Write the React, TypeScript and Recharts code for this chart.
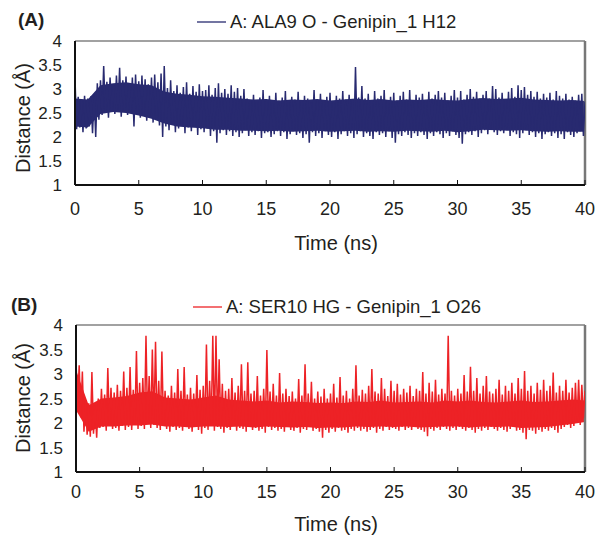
import React from 'react';
import { ComposedChart, Line, Area, XAxis, YAxis, ReferenceLine } from 'recharts';

// Time axis (ns), distance axis (Å)
const X_TICKS = [0, 5, 10, 15, 20, 25, 30, 35, 40];
const Y_TICKS = [1, 1.5, 2, 2.5, 3, 3.5, 4];
const STEP_NS = 0.25; // sampling of read-off extremes
const CORE_STEP_NS = 1; // sampling of the solid core of the trace

// Panel A: ALA9 O - Genipin_1 H12 (upper extremes every 0.25 ns, lower extremes in between)
const A_PEAKS = [
  3.22, 2.84, 2.78, 2.86, 2.80, 2.85, 2.88, 3.12, 3.18, 3.48, 3.15, 3.24,
  3.10, 3.28, 3.44, 3.18, 3.26, 3.12, 3.24, 3.30, 3.16, 3.28, 3.20, 3.10,
  3.24, 3.30, 3.14, 3.32, 3.48, 3.02, 3.18, 2.96, 3.08, 2.92, 3.04, 3.14,
  2.90, 3.06, 2.94, 3.10, 2.96, 2.98, 3.08, 2.88, 3.02, 3.12, 2.92, 3.00,
  2.90, 3.08, 2.94, 3.02, 2.86, 3.00, 2.80, 2.76, 2.88, 2.72, 2.82, 2.98,
  2.74, 2.86, 2.70, 2.92, 2.76, 2.82, 2.96, 2.72, 2.84, 2.78, 2.94, 2.74,
  2.86, 2.80, 2.72, 2.98, 2.78, 2.90, 2.74, 2.84, 2.92, 2.74, 2.86, 2.80,
  2.96, 2.78, 2.88, 2.76, 3.46, 2.82, 3.06, 2.80, 2.90, 2.74, 2.96, 2.80,
  2.86, 2.98, 2.76, 2.84, 2.92, 2.76, 2.86, 2.94, 2.78, 2.98, 2.76, 2.88,
  2.82, 2.90, 2.74, 2.94, 2.80, 2.88, 2.96, 2.82, 2.92, 2.76, 2.86, 2.98,
  2.82, 2.96, 2.78, 2.88, 3.00, 2.84, 2.94, 2.80, 2.88, 2.96, 2.80, 3.06,
  3.00, 2.82, 2.92, 2.78, 2.94, 3.02, 2.84, 3.08, 2.98, 3.04, 2.88, 2.96,
  2.84, 2.94, 2.80, 2.90, 2.82, 2.92, 2.78, 2.96, 2.86, 2.80, 2.90, 2.78,
  2.84, 2.76, 2.88, 2.90, 2.74,
];
const A_TROUGHS = [
  2.16, 2.20, 2.10, 2.18, 2.22, 2.08, 2.00, 2.36, 2.46, 2.52, 2.40, 2.56,
  2.48, 2.58, 2.42, 2.52, 2.46, 2.50, 2.22, 2.48, 2.40, 2.46, 2.34, 2.42,
  2.30, 2.38, 2.24, 2.00, 2.22, 2.14, 2.28, 2.10, 2.18, 2.24, 2.08, 2.20,
  2.12, 2.22, 2.04, 2.16, 2.10, 2.18, 2.02, 2.12, 1.88, 2.08, 2.14, 2.04,
  2.12, 2.02, 2.10, 2.00, 2.08, 2.14, 2.02, 2.10, 2.04, 2.12, 1.98, 2.08,
  2.10, 2.00, 2.06, 2.12, 2.02, 2.10, 1.96, 2.06, 2.12, 2.04, 2.08, 1.98,
  2.06, 1.88, 2.10, 2.02, 2.08, 1.98, 2.12, 2.04, 2.00, 2.10, 1.96, 2.06,
  2.12, 2.02, 2.08, 1.98, 2.06, 2.12, 2.00, 2.08, 2.02, 1.96, 2.10, 2.04,
  2.08, 2.00, 2.12, 1.98, 1.88, 2.06, 2.02, 2.10, 2.04, 1.98, 2.08, 2.02,
  2.10, 2.04, 1.96, 2.08, 2.02, 2.10, 2.06, 1.98, 2.08, 2.02, 2.12, 2.04,
  1.98, 1.86, 2.06, 2.10, 2.04, 2.12, 2.00, 2.08, 2.14, 2.06, 2.16, 2.10,
  2.04, 2.12, 2.08, 2.14, 2.02, 2.10, 2.06, 1.98, 2.08, 2.14, 2.04, 2.10,
  2.00, 2.08, 1.96, 2.06, 2.10, 2.02, 2.08, 1.98, 2.06, 1.96, 2.10, 2.04,
  2.00, 2.08, 2.12, 2.02,
];
// Solid core of trace A, every 1 ns
const A_CORE_HI = [
  2.80, 2.78, 3.08, 3.12, 3.14, 3.10, 3.08, 2.95, 2.90, 2.88,
  2.85, 2.84, 2.82, 2.80, 2.78, 2.79, 2.76, 2.78, 2.77, 2.79,
  2.76, 2.78, 2.80, 2.77, 2.79, 2.76, 2.78, 2.77, 2.79, 2.77,
  2.76, 2.79, 2.81, 2.79, 2.80, 2.82, 2.78, 2.77, 2.76, 2.77, 2.75,
];
const A_CORE_LO = [
  2.22, 2.20, 2.48, 2.52, 2.50, 2.45, 2.38, 2.28, 2.22, 2.20,
  2.18, 2.15, 2.15, 2.13, 2.13, 2.12, 2.13, 2.11, 2.12, 2.13,
  2.11, 2.12, 2.13, 2.11, 2.12, 2.11, 2.13, 2.12, 2.11, 2.13,
  2.10, 2.12, 2.15, 2.14, 2.13, 2.14, 2.12, 2.11, 2.12, 2.11, 2.11,
];

// Panel B: SER10 HG - Genipin_1 O26
const B_PEAKS = [
  3.25, 3.18, 3.05, 2.45, 2.40, 3.04, 2.35, 2.50, 2.70, 2.58, 3.12, 2.72,
  2.62, 2.78, 2.66, 3.05, 2.72, 3.14, 2.68, 3.47, 2.82, 2.92, 3.78, 2.96,
  3.50, 3.66, 2.86, 3.46, 2.66, 2.56, 2.76, 2.62, 3.10, 2.66, 3.14, 2.58,
  2.72, 2.60, 2.98, 2.68, 2.76, 3.60, 2.86, 3.78, 3.78, 3.30, 2.80, 2.66,
  2.70, 2.92, 2.62, 2.76, 3.20, 2.66, 3.24, 2.60, 2.66, 2.96, 2.56, 2.70,
  3.49, 2.64, 2.80, 2.56, 3.02, 2.60, 2.70, 2.55, 2.64, 2.50, 2.90, 2.56,
  3.20, 2.60, 2.84, 2.50, 2.64, 2.54, 2.70, 2.50, 2.60, 2.80, 2.52, 2.94,
  2.56, 2.66, 2.50, 2.70, 3.18, 2.56, 2.68, 2.60, 2.76, 3.10, 2.64, 2.60,
  2.92, 2.70, 2.55, 2.86, 2.66, 2.80, 2.58, 2.70, 2.62, 2.76, 2.55, 2.70,
  2.66, 3.04, 2.60, 2.82, 2.64, 2.88, 2.58, 2.70, 2.60, 3.78, 2.66, 2.56,
  2.70, 2.60, 2.98, 2.64, 3.15, 2.66, 2.92, 2.60, 2.76, 2.96, 2.64, 2.60,
  2.70, 2.88, 2.58, 2.76, 2.66, 2.82, 2.60, 2.92, 2.70, 3.06, 2.66, 2.76,
  2.60, 2.82, 2.68, 2.88, 2.66, 2.76, 3.03, 2.62, 2.76, 2.66, 2.88, 2.62,
  2.72, 2.82, 2.88, 2.78, 2.66,
];
const B_TROUGHS = [
  2.40, 2.12, 1.82, 1.76, 1.72, 1.78, 1.70, 1.90, 1.92, 1.84, 1.96, 1.88,
  1.90, 1.84, 1.94, 1.86, 1.92, 1.86, 1.96, 1.88, 1.94, 1.88, 1.98, 1.90,
  1.96, 1.90, 1.86, 1.94, 1.88, 1.82, 1.92, 1.86, 1.90, 1.84, 1.94, 1.88,
  1.82, 1.92, 1.86, 1.78, 1.90, 1.86, 1.94, 1.84, 1.92, 1.88, 1.80, 1.90,
  1.86, 1.94, 1.84, 1.90, 1.88, 1.82, 1.92, 1.86, 1.90, 1.84, 1.88, 1.80,
  1.92, 1.86, 1.90, 1.84, 1.88, 1.82, 1.94, 1.86, 1.84, 1.90, 1.80, 1.88,
  1.86, 1.92, 1.84, 1.88, 1.82, 1.70, 1.86, 1.80, 1.88, 1.82, 1.90, 1.84,
  1.86, 1.80, 1.88, 1.84, 1.90, 1.84, 1.88, 1.82, 1.86, 1.90, 1.80, 1.88,
  1.84, 1.92, 1.86, 1.90, 1.88, 1.84, 1.92, 1.86, 1.90, 1.86, 1.94, 1.88,
  1.86, 1.82, 1.73, 1.88, 1.84, 1.90, 1.86, 1.92, 1.88, 1.84, 1.90, 1.86,
  1.92, 1.88, 1.84, 1.90, 1.86, 1.80, 1.88, 1.84, 1.90, 1.86, 1.92, 1.88,
  1.84, 1.90, 1.86, 1.82, 1.88, 1.92, 1.84, 1.86, 1.80, 1.67, 1.86, 1.84,
  1.78, 1.86, 1.82, 1.88, 1.84, 1.90, 1.86, 1.80, 1.88, 1.92, 1.96, 1.90,
  1.94, 2.00, 1.96, 2.10,
];
// Solid core of trace B, every 1 ns
const B_CORE_HI = [
  3.08, 2.36, 2.50, 2.52, 2.55, 2.62, 2.65, 2.52, 2.50, 2.48,
  2.52, 2.56, 2.48, 2.46, 2.44, 2.46, 2.42, 2.44, 2.43, 2.41,
  2.42, 2.41, 2.44, 2.43, 2.46, 2.42, 2.43, 2.44, 2.42, 2.46,
  2.44, 2.46, 2.43, 2.42, 2.44, 2.46, 2.43, 2.44, 2.46, 2.48, 2.46,
];
const B_CORE_LO = [
  2.26, 1.82, 1.93, 1.93, 1.95, 1.95, 1.97, 1.93, 1.93, 1.91,
  1.93, 1.93, 1.92, 1.93, 1.91, 1.93, 1.92, 1.91, 1.92, 1.90,
  1.91, 1.91, 1.93, 1.92, 1.93, 1.92, 1.93, 1.91, 1.92, 1.93,
  1.93, 1.91, 1.93, 1.92, 1.93, 1.90, 1.91, 1.92, 1.95, 1.98, 2.02,
];

const TEXT = '#231f20';
const FONT = '"Liberation Sans", Arial, Helvetica, sans-serif';
const NAVY = '#282a70';
const RED = '#ed2226';

type Row = { t: number; d?: number; core?: [number, number] };

function buildSeries(peaks: number[], troughs: number[], coreHi: number[], coreLo: number[]) {
  const out: Row[] = [];
  const perCore = Math.round(CORE_STEP_NS / STEP_NS);
  peaks.forEach((p, i) => {
    const row: Row = { t: i * STEP_NS, d: p };
    if (i % perCore === 0) {
      const k = i / perCore;
      if (k < coreHi.length) row.core = [coreLo[k], coreHi[k]];
    }
    out.push(row);
    if (i < troughs.length) out.push({ t: i * STEP_NS + STEP_NS / 2, d: troughs[i] });
  });
  return out;
}

const dataA = buildSeries(A_PEAKS, A_TROUGHS, A_CORE_HI, A_CORE_LO);
const dataB = buildSeries(B_PEAKS, B_TROUGHS, B_CORE_HI, B_CORE_LO);

function Panel(props: {
  data: Row[];
  color: string;
  top: number;
  marginTop: number;
  marginBottom: number;
  marginLeft: number;
  tickMargin: number;
}) {
  const { data, color, top, marginTop, marginBottom, marginLeft, tickMargin } = props;
  return (
    <div style={{ position: 'absolute', left: 0, top }}>
      <ComposedChart
        width={595}
        height={250}
        data={data}
        margin={{ top: marginTop, right: 10, bottom: marginBottom, left: marginLeft }}
      >
        <XAxis
          dataKey="t"
          type="number"
          domain={[0, 40]}
          ticks={X_TICKS}
          interval={0}
          height={30}
          tickSize={-5}
          tickMargin={tickMargin}
          axisLine={{ stroke: '#111', strokeWidth: 2 }}
          tickLine={{ stroke: '#111', strokeWidth: 1 }}
          tick={{ fontSize: 18, fill: TEXT, fontFamily: FONT }}
          allowDataOverflow
        />
        <YAxis
          type="number"
          domain={[1, 4]}
          ticks={Y_TICKS}
          interval={0}
          width={60}
          tickLine={false}
          tickSize={6}
          tickMargin={7}
          axisLine={{ stroke: '#111', strokeWidth: 2 }}
          tick={{ fontSize: 17, fill: TEXT, fontFamily: FONT }}
          allowDataOverflow
        />
        <ReferenceLine y={4} stroke="#444" strokeWidth={1.2} />
        <ReferenceLine x={40} stroke="#777" strokeWidth={2.5} />
        <Area
          type="linear"
          dataKey="core"
          stroke="none"
          fill={color}
          fillOpacity={1}
          connectNulls
          isAnimationActive={false}
        />
        <Line
          type="linear"
          dataKey="d"
          stroke={color}
          strokeWidth={1.5}
          dot={false}
          isAnimationActive={false}
        />
      </ComposedChart>
    </div>
  );
}

export default function App() {
  return (
    <div style={{ position: 'absolute', left: 0, top: 0, width: 595, height: 535, background: '#fff', fontFamily: FONT }}>
      <Panel data={dataA} color={NAVY} top={0} marginTop={41} marginBottom={35} marginLeft={15} tickMargin={22} />
      <Panel data={dataB} color={RED} top={285} marginTop={40} marginBottom={33} marginLeft={16} tickMargin={18} />
      <svg
        width={595}
        height={535}
        style={{ position: 'absolute', left: 0, top: 0, pointerEvents: 'none' }}
        fontFamily={FONT}
      >
        <text x={18} y={26} fontSize={19} fontWeight="bold" fill={TEXT}>(A)</text>
        <line x1={197} x2={226} y1={22} y2={22} stroke={NAVY} strokeWidth={1.3} />
        <text x={230} y={27.5} fontSize={18.5} fill={TEXT}>A: ALA9 O - Genipin_1 H12</text>
        <text x={336} y={250} fontSize={20} fill={TEXT} textAnchor="middle">Time (ns)</text>
        <text x={23} y={118} fontSize={20} fill={TEXT} textAnchor="middle" dy="0.35em" transform="rotate(-90 23 118)">Distance (Å)</text>

        <text x={11} y={311} fontSize={19} fontWeight="bold" fill={TEXT}>(B)</text>
        <line x1={193} x2={222} y1={307} y2={307} stroke={RED} strokeWidth={1.3} />
        <text x={226} y={313} fontSize={18.5} fill={TEXT}>A: SER10 HG - Genipin_1 O26</text>
        <text x={336} y={530.5} fontSize={20} fill={TEXT} textAnchor="middle">Time (ns)</text>
        <text x={23} y={398} fontSize={20} fill={TEXT} textAnchor="middle" dy="0.35em" transform="rotate(-90 23 398)">Distance (Å)</text>
      </svg>
    </div>
  );
}
